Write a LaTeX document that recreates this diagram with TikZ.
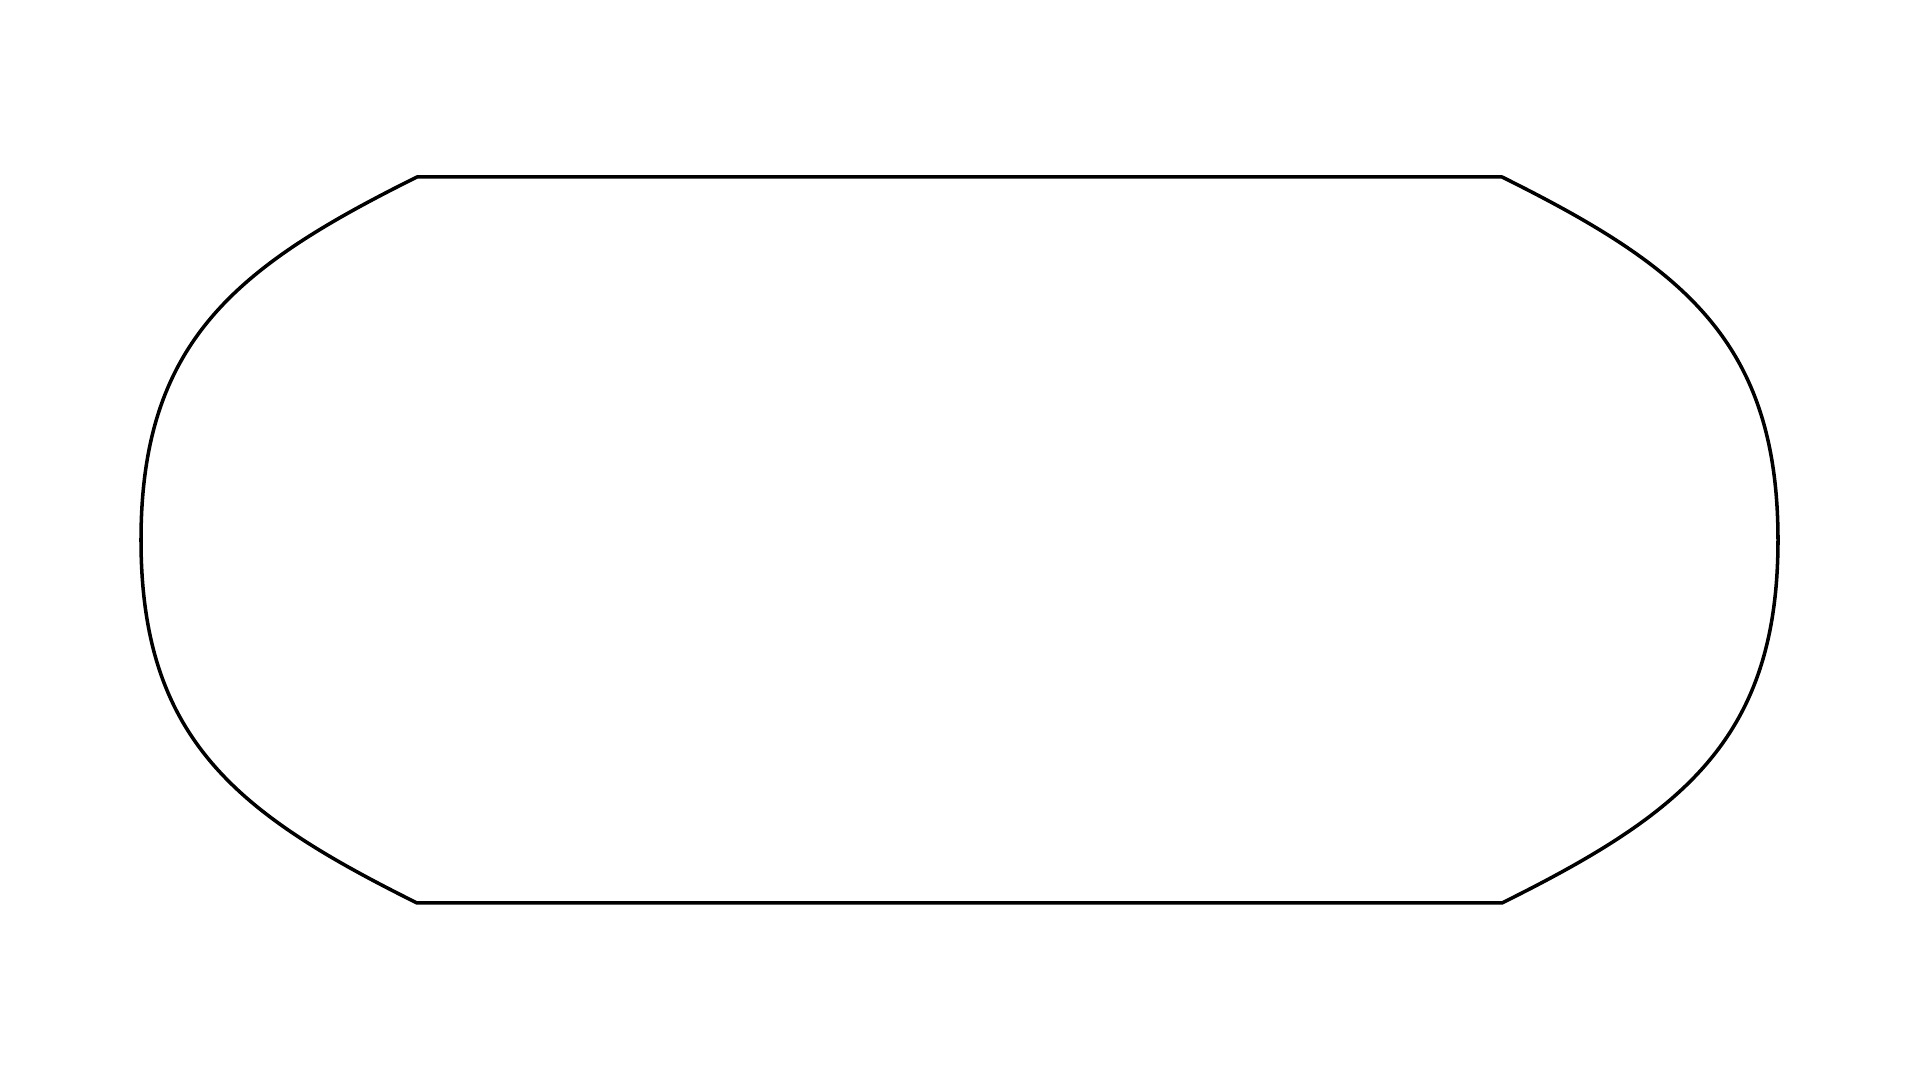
\documentclass[tikz,border=0pt]{standalone}
\usepackage{tikz}
\tikzset{outline/.style={draw=black, line width=1pt, line join=round}}

\begin{document}
\begin{tikzpicture}[x=0.01cm,y=0.01cm]
  \useasboundingbox (0,0) rectangle (1920,1080);

  % ------------------------------------------------
  % Rounded track outline: two flattened caps joined by straight edges
  % ------------------------------------------------
  \coordinate (tl) at (417,903);
  \coordinate (bl) at (417,177);
  \coordinate (br) at (1502,177);
  \coordinate (tr) at (1502,903);

  \draw[outline] (tl) .. controls (238,814) and (141,740) .. (141,540)
                      .. controls (141,340) and (238,266) .. (bl)
    -- (br) .. controls (1681,266) and (1778,340) .. (1778,540)
            .. controls (1778,740) and (1681,814) .. (tr)
    -- cycle;
\end{tikzpicture}
\end{document}
